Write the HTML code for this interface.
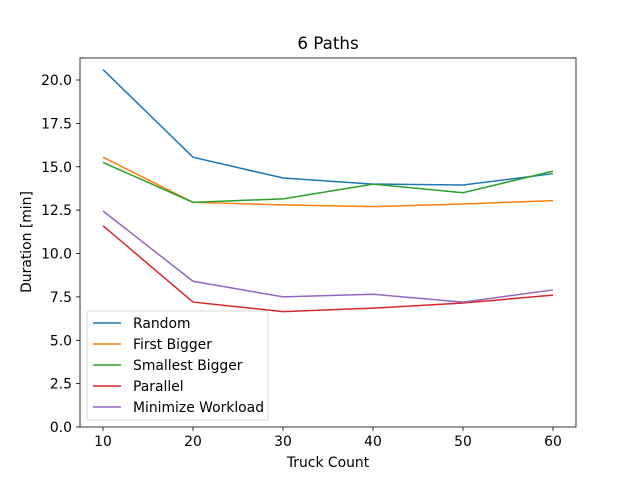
<!DOCTYPE html>
<html><head><meta charset="utf-8"><style>
body{margin:0;background:#fff}
svg{display:block;font-family:"DejaVu Sans","Liberation Sans",sans-serif}
</style></head><body>
<svg width="640" height="480" viewBox="0 0 640 480" xmlns="http://www.w3.org/2000/svg">
<rect width="640" height="480" fill="#fff"/>
<text x="328" y="49" font-size="16.7" text-anchor="middle">6 Paths</text>
<g transform="matrix(9 0 0 -17.35 13 427)" fill="none" stroke-width="1.5">
<polyline vector-effect="non-scaling-stroke" stroke="#1f77b4" points="10,20.6 20,15.55 30,14.35 40,14.0 50,13.95 60,14.6"/>
<polyline vector-effect="non-scaling-stroke" stroke="#ff7f0e" points="10,15.55 20,12.95 30,12.8 40,12.7 50,12.85 60,13.05"/>
<polyline vector-effect="non-scaling-stroke" stroke="#2ca02c" points="10,15.25 20,12.95 30,13.15 40,14.0 50,13.5 60,14.75"/>
<polyline vector-effect="non-scaling-stroke" stroke="#d62728" points="10,11.6 20,7.2 30,6.65 40,6.85 50,7.15 60,7.6"/>
<polyline vector-effect="non-scaling-stroke" stroke="#9467bd" points="10,12.45 20,8.4 30,7.5 40,7.65 50,7.2 60,7.9"/>
</g>
<rect x="80" y="58" width="496" height="369" fill="none" stroke="#000" stroke-width="0.8"/>
<g stroke="#000" stroke-width="0.8">
<line x1="103" y1="427" x2="103" y2="431"/><line x1="193" y1="427" x2="193" y2="431"/><line x1="283" y1="427" x2="283" y2="431"/><line x1="373" y1="427" x2="373" y2="431"/><line x1="463" y1="427" x2="463" y2="431"/><line x1="553" y1="427" x2="553" y2="431"/>
<line x1="76" y1="427" x2="80" y2="427"/><line x1="76" y1="383.6" x2="80" y2="383.6"/><line x1="76" y1="340.3" x2="80" y2="340.3"/><line x1="76" y1="296.9" x2="80" y2="296.9"/><line x1="76" y1="253.5" x2="80" y2="253.5"/><line x1="76" y1="210.1" x2="80" y2="210.1"/><line x1="76" y1="166.8" x2="80" y2="166.8"/><line x1="76" y1="123.4" x2="80" y2="123.4"/><line x1="76" y1="80" x2="80" y2="80"/>
</g>
<g font-size="13.9" text-anchor="middle">
<text x="103" y="446">10</text><text x="193" y="446">20</text><text x="283" y="446">30</text><text x="373" y="446">40</text><text x="463" y="446">50</text><text x="553" y="446">60</text>
<text x="328" y="467">Truck Count</text>
</g>
<g font-size="13.9" text-anchor="end">
<text x="72" y="432">0.0</text><text x="72" y="388.6">2.5</text><text x="72" y="345.3">5.0</text><text x="72" y="301.9">7.5</text><text x="72" y="258.5">10.0</text><text x="72" y="215.1">12.5</text><text x="72" y="171.8">15.0</text><text x="72" y="128.4">17.5</text><text x="72" y="85">20.0</text>
</g>
<text transform="translate(31,242) rotate(-90)" font-size="13.9" text-anchor="middle">Duration [min]</text>
<rect x="87" y="311" width="181" height="109" rx="2" fill="#fff" fill-opacity="0.8" stroke="#ccc" stroke-width="0.8"/>
<g stroke-width="1.5">
<line x1="93" y1="323" x2="121" y2="323" stroke="#1f77b4"/>
<line x1="93" y1="344" x2="121" y2="344" stroke="#ff7f0e"/>
<line x1="93" y1="365" x2="121" y2="365" stroke="#2ca02c"/>
<line x1="93" y1="386" x2="121" y2="386" stroke="#d62728"/>
<line x1="93" y1="407" x2="121" y2="407" stroke="#9467bd"/>
</g>
<g font-size="13.9">
<text x="133" y="328">Random</text>
<text x="133" y="349">First Bigger</text>
<text x="133" y="370">Smallest Bigger</text>
<text x="133" y="391">Parallel</text>
<text x="133" y="412">Minimize Workload</text>
</g>
</svg>
</body></html>
